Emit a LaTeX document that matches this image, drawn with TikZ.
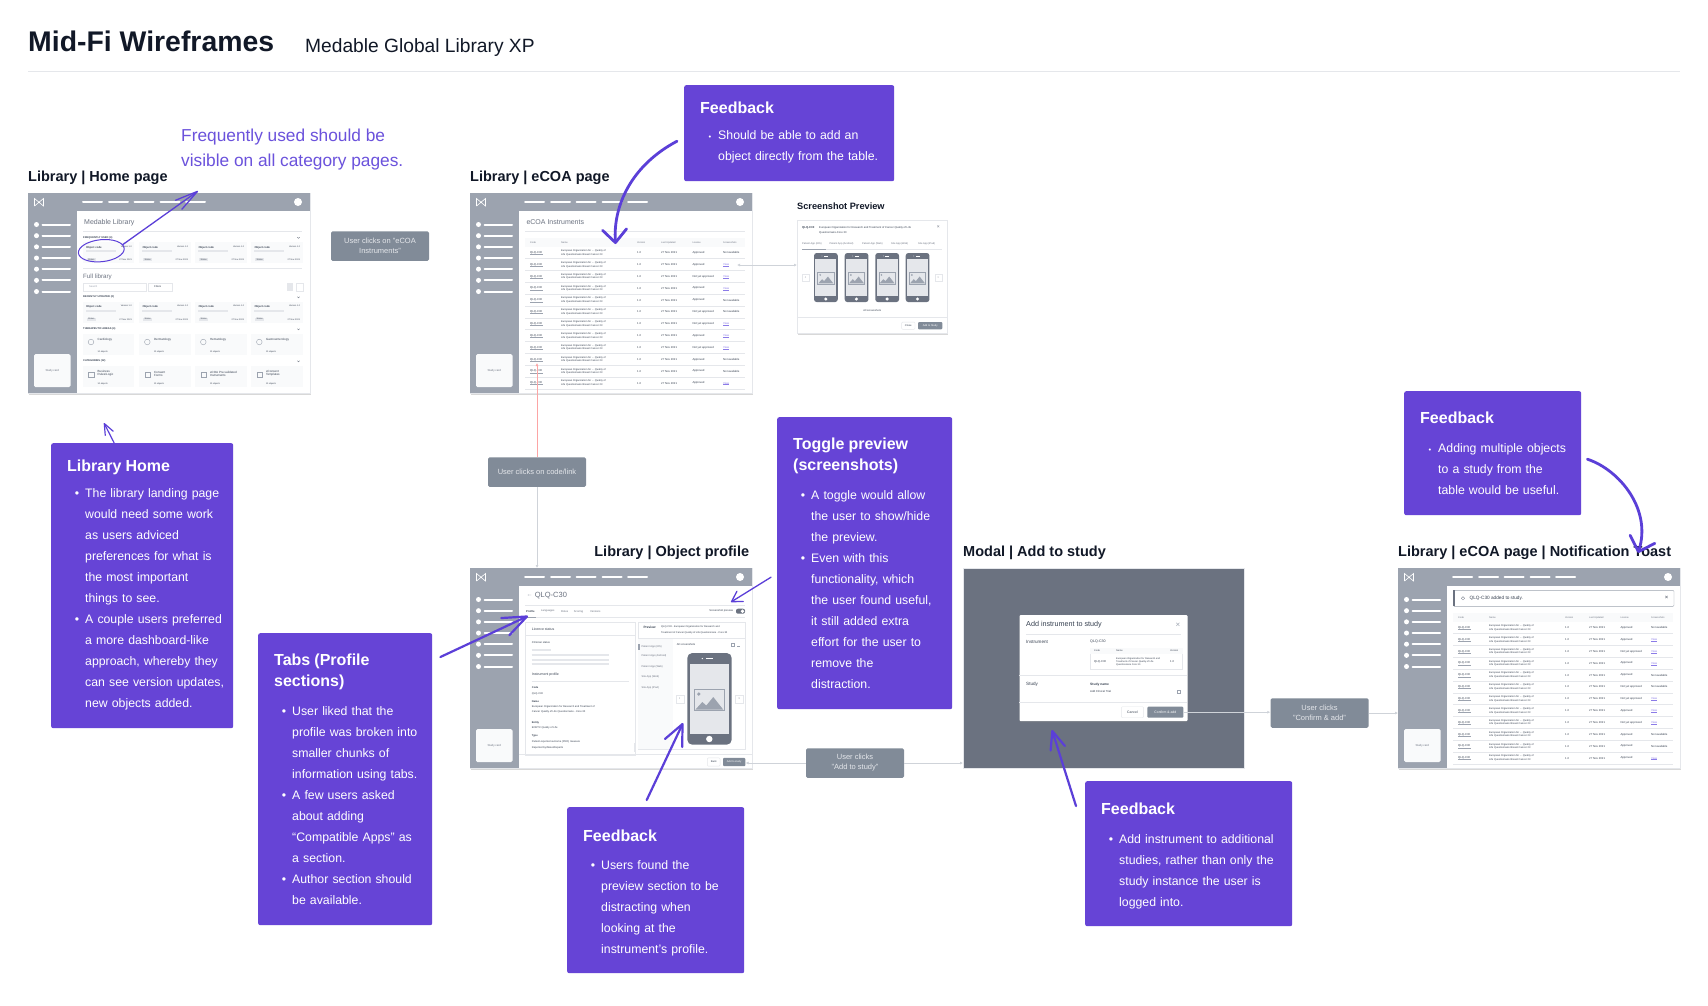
\documentclass[tikz,border=0pt]{standalone}
\usepackage{fontspec}
\setmainfont{Liberation Sans}
\usetikzlibrary{arrows.meta,positioning,shapes.geometric,shadows}

\definecolor{notepurple}{HTML}{6644D6}
\definecolor{arrowpurple}{HTML}{5B3FD8}
\definecolor{wfgray}{HTML}{9CA3AF}
\definecolor{wfdark}{HTML}{6B7280}
\definecolor{wfink}{HTML}{374151}
\definecolor{wfline}{HTML}{E5E7EB}
\definecolor{wfpale}{HTML}{F9FAFB}
\definecolor{clickgray}{HTML}{818B98}
\definecolor{linkview}{HTML}{8B7BE8}
\definecolor{linkred}{HTML}{FCA5A5}
\definecolor{titleink}{HTML}{111827}

\tikzset{
  fs/.style={font=\fontsize{#1pt}{#1pt}\selectfont},
  fsb/.style={font=\fontsize{#1pt}{#1pt}\selectfont\bfseries},
  wftext/.style={anchor=west,inner sep=0pt,text=wfink,align=left,fs=2.8},
  wfrule/.style={draw=wfline,line width=.5pt},
  wfbar/.style={draw=wfline,line width=2pt},
  wfbase/.style={anchor=north west,inner sep=0pt,fill=white,draw=wfline,line width=.3pt,minimum width=282pt,minimum height=200pt,
    drop shadow={opacity=.3,shadow xshift=.5pt,shadow yshift=-1.5pt}},
  btnlight/.style={draw=wfline,fill=white,rounded corners=1pt,inner sep=0pt,text=wfink},
  btndark/.style={fill=clickgray,rounded corners=1pt,inner sep=0pt,text=white},
  notebox/.style={anchor=north west,fill=notepurple,rounded corners=2pt,text=white,align=left,
    inner xsep=16pt,inner ysep=0pt,font=\fontsize{12.3pt}{21pt}\selectfont},
  notesize/.style 2 args={minimum width=#1pt,text width=#1pt-32pt,minimum height=#2pt},
  clickbox/.style={fill=clickgray,rounded corners=1.5pt,text=wfline,align=center,inner sep=0pt,
    minimum width=98pt,minimum height=29.5pt,font=\fontsize{7.5pt}{10pt}\selectfont},
  pagehead/.style={inner sep=0pt,text=titleink,font=\fontsize{14.5pt}{16pt}\selectfont\bfseries},
  flow/.style={draw=wfline!70!wfgray,line width=1pt,-{Latex[length=3pt,width=3pt]}},
  fbarrow/.style={draw=arrowpurple,line cap=round,line join=round},
  barbtip/.style 2 args={-{Straight Barb[length=#1pt,width=#2pt,round]}}
}

\newcounter{lblno}
\newcommand{\lbl}[4][]{\stepcounter{lblno}\node[wftext,#1] (lbl\arabic{lblno}) at (#2,#3) {#4};}

\newcommand{\nhead}[1]{\mbox{\fontsize{16pt}{21pt}\selectfont\bfseries #1}}
\newcommand{\nb}[1]{\mbox{\hspace*{18pt}\llap{\textbullet\hspace{6pt}}#1}}
\newcommand{\nbs}[1]{\mbox{\hspace*{18pt}\llap{\fontsize{7.5pt}{21pt}\selectfont\textbullet\hspace{7pt}}#1}}
\newcommand{\nl}[1]{\mbox{\hspace*{18pt}#1}}

% shell of a wireframe: header, sidebar, study card
\newcommand{\wireshell}[3]{
  \node[wfbase] (#1) at (#2,#3) {};
  \begin{scope}[shift={(#2,#3)}]
    \fill[wfgray] (0,0) rectangle (282,18);
    \fill[wfgray] (0,18) rectangle (49,200);
    \draw[white,line width=.6pt] (6.5,13) -- (6.5,5.5) -- (15.5,13) -- (15.5,5.5) -- (6.5,13);
    \foreach \hx in {55,81,106.5,132.5,158}
      \draw[white,line width=2pt,line cap=round] (\hx,9) -- ++(19,0);
    \fill[white] (270,9) circle (4pt);
    \foreach \sy in {0,...,6} {
      \fill[white] (8.5,31.5+11.17*\sy) circle (2.5pt);
      \draw[white,line width=2pt,line cap=round] (14.5,31.5+11.17*\sy) -- (42,31.5+11.17*\sy);
    }
    \fill[wfpale,rounded corners=1.5pt] (6,161) rectangle (42.5,194);
    \lbl[anchor=center,fs=2.8,text=wfdark]{24.2}{177.5}{Study card}
  \end{scope}
}

% table shared by the two eCOA pages
\newcommand{\ecoatable}{
  \fill[wfpale] (55.3,45) rectangle (275.3,54.3);
  \foreach \hx/\hdr in {60/Code,91/Name,167/Version,191/Last Updated,222.3/License,253/Screenshots} {
    \lbl[fs=2.4,text=wfdark]{\hx}{49.7}{\hdr}
  }
  \foreach \rowi/\lic/\shot in {0/Approved/0,1/Approved/1,2/Not yet approved/1,3/Approved/1,4/Approved/0,5/Not yet approved/0,
      6/Not yet approved/1,7/Approved/1,8/Not yet approved/1,9/Approved/0,10/Approved/0,11/Approved/1} {
    \pgfmathsetmacro{\ry}{59.7+11.85*\rowi}
    \lbl[fs=2.8]{60}{\ry}{QLQ-C30}
    \draw[wfgray,line width=.2pt] (60,\ry+1.5) -- ++(12.5,0);
    \lbl[fs=2.55]{91}{\ry-1.8}{European Organization for ... Quality of}
    \lbl[fs=2.55]{91}{\ry+1.8}{Life Questionnaire Breast Cancer 23}
    \lbl[fs=2.8]{167}{\ry}{1.0}
    \lbl[fs=2.8]{191}{\ry}{27 Nov 2021}
    \lbl[fs=2.8]{222.3}{\ry}{\lic}
    \ifnum\shot=1
      \lbl[fs=2.8,text=linkview]{253}{\ry}{View}
      \draw[linkview,line width=.2pt] (253,\ry+1.5) -- ++(6,0);
    \else
      \lbl[fs=2.8]{253}{\ry}{Not available}
    \fi
    \draw[wfrule] (55.3,\ry+5.9) -- (275.3,\ry+5.9);
  }
}

% phone with a placeholder picture, 44.4 by 91.7 at scale 1
\newcommand{\phone}[3]{
  \begin{scope}[shift={(#1,#2)},scale=#3]
    \fill[wfdark,rounded corners=#3*5pt] (0,0) rectangle (44.4,91.7);
    \fill[wfline] (2.4,11) rectangle (42,81);
    \fill[white] (22,86) circle (3.2pt);
    \draw[white,line width=.5pt] (19,5.5) -- (26,5.5);
    \fill[white] (15,5.5) circle (.7pt);
    \draw[wfgray,fill=wfline,line width=#3*1pt] (7,36.7) rectangle (37,57.7);
    \fill[wfgray] (11.5,41) circle (1.8pt);
    \fill[wfgray] (8,56.7) -- (15,49) -- (19,52.5) -- (26,44) -- (36,56.7) -- cycle;
  \end{scope}
}

\newcommand{\chev}[2]{\draw[wfdark,line width=.3pt] (#1-1.2,#2-.6) -- (#1,#2+.6) -- (#1+1.2,#2-.6);}

\begin{document}
\begin{tikzpicture}[x=1pt,y=-1pt]
\useasboundingbox[fill=white] (0,0) rectangle (1708,1005);

% page title
\node[anchor=base west,inner sep=0pt,text=titleink,font=\fontsize{28.4pt}{30pt}\selectfont\bfseries] (pageTitle) at (28,51) {Mid-Fi Wireframes};
\node[anchor=base west,inner sep=0pt,text=titleink,font=\fontsize{19.2pt}{22pt}\selectfont] (pageSub) at (305,52) {Medable Global Library XP};
\draw[draw=wfline,line width=1pt] (pageTitle.base west |- 0,71) -- (1680,71);

% library home
\wireshell{wfHome}{28}{193}
\begin{scope}[shift={(28,193)}]
  \lbl[fs=7,text=wfdark]{56}{30}{Medable Library}
  \draw[wfrule] (55,38.5) -- (274,38.5);
  \draw[wfrule] (55,75) -- (274,75);
  \foreach \sy/\st in {44.7/FREQUENTLY USED (4),104.3/RECENTLY UPDATED (2),136.3/THERAPEUTIC AREAS (4),168.3/CATEGORIES (12)} {
    \lbl[fsb=2.6]{55}{\sy}{\st}
    \chev{270.5}{\sy}
  }
  \foreach \cy in {49.3,109}
    \foreach \cx in {55,111.3,167.3,223.3} {
      \fill[wfpale] (\cx,\cy) rectangle ++(51.4,21);
      \lbl[fsb=2.7]{\cx+3}{\cy+5}{Object code}
      \lbl[anchor=east,fs=2.2]{\cx+49}{\cy+4}{Version 1.0}
      \draw[wfbar] (\cx+3,\cy+9) -- ++(30,0);
      \fill[wfline] (\cx+4,\cy+15.5) rectangle ++(9,3);
      \lbl[fs=2.2]{\cx+5}{\cy+17}{Status}
      \lbl[anchor=east,fs=2.2]{\cx+49}{\cy+17.5}{27 Nov 2021}
    }
  \lbl[fs=6.2,text=wfdark]{55}{83.7}{Full library}
  \draw[wfline,line width=.4pt] (55,90.3) rectangle (117.7,97.7);
  \lbl[fs=2.6,text=wfgray]{61}{94}{Search}
  \draw[wfline,line width=.4pt] (119.7,90.3) rectangle (143.7,97.7);
  \lbl[fs=2.6]{126}{94}{Filters}
  \fill[wfline] (258.7,90.3) rectangle (265.3,97.7);
  \draw[wfline,line width=.4pt] (268,90.3) rectangle (274.7,97.7);
  \foreach \cx/\cn in {55/Cardiology,111.3/Dermatology,167.3/Hematology,223.3/Gastroenterology} {
    \fill[wfpale] (\cx,141) rectangle ++(51.4,21.3);
    \draw[wfgray,line width=.4pt] (\cx+8,149) circle (2.8pt);
    \lbl[fs=3]{\cx+14.5}{146.7}{\cn}
    \lbl[fs=2.2]{\cx+14.5}{158.7}{10 objects}
  }
  \foreach \cx/\cn in {55/{Business\\Rules/Logic},111.3/{Consent\\Forms},167.3/{eCOA Pre-validated\\Instruments},223.3/{eConsent\\Templates}} {
    \fill[wfpale] (\cx,173) rectangle ++(51.4,21.3);
    \draw[wfgray,line width=.4pt] (\cx+5.5,179) rectangle ++(5.5,5.5);
    \lbl[fs=3]{\cx+14.5}{180.7}{\cn}
    \lbl[fs=2.2]{\cx+14.5}{190.7}{10 objects}
  }
\end{scope}
\node[ellipse,draw=arrowpurple,line width=1pt,inner sep=0pt,minimum width=46pt,minimum height=22pt,rotate=6] (ringFreq) at (101.3,250.7) {};

% ecoa page
\wireshell{wfEcoa}{470}{193}
\begin{scope}[shift={(470,193)}]
  \lbl[fs=7,text=wfdark]{56.3}{29.3}{eCOA Instruments}
  \draw[wfrule] (55.3,38) -- (275.3,38);
  \ecoatable
\end{scope}

% screenshot preview
\node[wfbase,minimum width=150pt,minimum height=113pt] (previewCard) at (797,220) {};
\node[anchor=base west,inner sep=0pt,text=titleink,font=\fontsize{9.2pt}{10pt}\selectfont\bfseries] (previewHead) at (797,209) {Screenshot Preview};
\begin{scope}[shift={(797,220)}]
  \lbl[fsb=2.8]{5}{7.7}{QLQ-C30}
  \lbl[fs=2.7]{22}{7.7}{European Organization for Research and Treatment of Cancer Quality of Life}
  \lbl[fs=2.7]{22}{12.7}{Questionnaire-Core 30}
  \lbl[anchor=center,fs=5,text=wfdark]{141.3}{7.3}{×}
  \foreach \tx/\tabn in {5/Patient App (iOS),32.3/Patient App (Android),65/Patient App (Web),94/Site App (Web),121/Site App (iPad)} {
    \lbl[fs=2.5,text=wfdark]{\tx}{24.3}{\tabn}
  }
  \draw[wfrule] (5,29.3) -- (145,29.3);
  \draw[wfgray,line width=.6pt] (5,29.3) -- (29,29.3);
  \phone{17}{33}{.535}
  \phone{47.7}{33}{.535}
  \phone{78.3}{33}{.535}
  \phone{108.7}{33}{.535}
  \draw[wfline,line width=.4pt] (5.3,54.3) rectangle (11.7,61);
  \lbl[anchor=center,fs=3.5,text=wfdark]{8.5}{57.6}{‹}
  \draw[wfline,line width=.4pt] (138,54.3) rectangle (144.7,61);
  \lbl[anchor=center,fs=3.5,text=wfdark]{141.3}{57.6}{›}
  \lbl[anchor=center,fs=2.6]{75.3}{91}{All screenshots}
  \draw[wfrule] (0,97.3) -- (150,97.3);
  \node[btnlight,minimum width=13.3pt,minimum height=7.3pt,fs=2.6] (previewClose) at (111.3,105.7) {Close};
  \node[btndark,minimum width=24.3pt,minimum height=7.3pt,fs=2.6] (previewAdd) at (133.2,105.7) {Add to Study};
\end{scope}

% object profile
\wireshell{wfProfile}{470}{568}
\begin{scope}[shift={(470,568)}]
  \lbl[fs=6,text=wfgray]{56.5}{27.5}{←}
  \lbl[fs=7.5,text=wfdark]{64.7}{27.7}{QLQ-C30}
  \draw[wfrule] (55.3,37) -- (275.3,37);
  \lbl[fsb=2.7]{56}{43.3}{Profile}
  \foreach \tx/\tabn in {71/Languages,91/Roles,103.7/Scoring,120/Versions} {
    \lbl[fs=2.7,text=wfdark]{\tx}{43.3}{\tabn}
  }
  \draw[wfrule] (55.3,49.3) -- (275.3,49.3);
  \draw[wfgray,line width=.5pt] (56,49.3) -- (66,49.3);
  \lbl[anchor=east,fs=2.7]{263.3}{43}{Screenshot preview}
  \fill[wfdark,rounded corners=2pt] (266,40.7) rectangle (275,45.7);
  \fill[white] (272.5,43.2) circle (1.8pt);
  % left panel
  \draw[wfline,line width=.4pt] (55.3,54) rectangle (165.3,186.7);
  \lbl[fs=3.5]{61.7}{61}{Licence status}
  \draw[wfrule] (55.3,67.3) -- (165.3,67.3);
  \lbl[fs=2.7]{61.7}{74.3}{Clinician status}
  \draw[wfbar] (61.7,81.7) -- (80.7,81.7);
  \foreach \by in {87,91.7,96.3} \draw[wfbar] (61.7,\by) -- (139,\by);
  \lbl[fs=3.5]{61.7}{107}{Instrument profile}
  \draw[wfrule] (61.7,113) -- (159,113);
  \foreach \ly/\ltxt in {120/Code,133.7/Name,154.7/Entity,168.3/Type} {
    \lbl[fsb=2.6]{61.7}{\ly}{\ltxt}
  }
  \lbl[fs=2.6]{61.7}{126}{QLQ-C30}
  \lbl[fs=2.6]{61.7}{139.3}{European Organization for Research and Treatment of}
  \lbl[fs=2.6]{61.7}{144.3}{Cancer Quality of Life Questionnaire - Core 30}
  \lbl[fs=2.6]{61.7}{160.3}{EORTC Quality of Life}
  \lbl[fs=2.6]{61.7}{174}{Patient-reported outcome (PRO) measure}
  \lbl[fs=2.6]{61.7}{179.7}{Reported by/About/Experts}
  \fill[wfline] (163.5,175) rectangle (165,184);
  % right panel
  \draw[wfline,line width=.4pt] (168.3,54) rectangle (275.3,181);
  \lbl[fsb=3.2]{173.3}{59.3}{Preview}
  \lbl[fs=2.5]{191}{59.3}{QLQ-C30 - European Organization for Research and}
  \lbl[fs=2.5]{191}{65}{Treatment of Cancer Quality of Life Questionnaire - Core 30}
  \draw[wfrule] (168.3,70.7) -- (275.3,70.7);
  \fill[wfpale] (168.3,71) rectangle (203.3,181);
  \fill[wfgray] (168.3,76) rectangle (169.6,82.3);
  \foreach \ly/\ltxt in {79/Patient App (iOS),88/Patient App (Android),98.7/Patient App (Web),109.3/Site App (Web),120/Site App (iPad)} {
    \lbl[fs=2.6,text=wfdark]{171.3}{\ly}{\ltxt}
  }
  \lbl[fs=2.7]{206.7}{76.3}{All screenshots}
  \draw[wfgray,line width=.3pt] (261,74.8) rectangle ++(3,3);
  \draw[wfgray,line width=.3pt] (267,78) -- (270,78);
  \phone{217.3}{85}{1}
  \draw[wfline,line width=.4pt] (206,127) rectangle (213.7,135);
  \lbl[anchor=center,fs=3.5,text=wfdark]{209.8}{131}{‹}
  \draw[wfline,line width=.4pt] (265.3,127) rectangle (273.3,135);
  \lbl[anchor=center,fs=3.5,text=wfink]{269.3}{131}{›}
  \draw[wfrule] (49,186.7) -- (282,186.7);
  \node[btnlight,minimum width=12.7pt,minimum height=8.3pt,fs=2.6] (profileBack) at (243.7,194) {Back};
  \node[btndark,minimum width=22.3pt,minimum height=8.3pt,fs=2.6] (profileAdd) at (264.2,194) {Add to study};
\end{scope}

% add to study modal
\node[anchor=north west,inner sep=0pt,fill=wfdark,draw=wfline,line width=.4pt,minimum width=281pt,minimum height=200pt] (modalBg) at (963,568) {};
\node[anchor=north west,inner sep=0pt,fill=white,rounded corners=1pt,minimum width=168pt,minimum height=106pt,
  drop shadow={opacity=.25,shadow xshift=0pt,shadow yshift=-1.5pt}] (modalCard) at (1019.3,615) {};
\begin{scope}[shift={(1019.3,615)}]
  \lbl[fs=7.2,text=wfink]{6.7}{10}{Add instrument to study}
  \lbl[anchor=center,fs=8,text=wfgray]{158.7}{10.7}{×}
  \draw[wfrule] (6.7,19.3) -- (162,19.3);
  \lbl[fs=4.6]{6.7}{27}{Instrument}
  \lbl[fs=3.6]{70.7}{27}{QLQ-C30}
  \draw[wfline,line width=.4pt] (70.7,32.7) rectangle (163.3,54.3);
  \fill[wfpale] (70.7,32.7) rectangle (163.3,38.7);
  \foreach \hx/\hdr in {74.7/Code,96.7/Name,150.7/Version} {
    \lbl[fs=2.4]{\hx}{35.7}{\hdr}
  }
  \lbl[fs=2.8]{74.7}{46.7}{QLQ-C30}
  \lbl[fs=2.4]{96.7}{43.7}{European Organization for Research and}
  \lbl[fs=2.4]{96.7}{46.7}{Treatment of Cancer Quality of Life}
  \lbl[fs=2.4]{96.7}{49.7}{Questionnaire Core 30}
  \lbl[fs=2.8]{150.7}{46.7}{1.0}
  \draw[wfrule] (0,60.3) -- (168,60.3);
  \lbl[fs=4.6]{6.7}{69}{Study}
  \lbl[fsb=3.3]{70.7}{69.3}{Study name}
  \lbl[fs=2.8]{70.7}{76.7}{Add Clinical Trial}
  \draw[wfgray,line width=.3pt] (158.3,75.3) rectangle ++(2.8,2.8);
  \draw[wfrule] (0,87.3) -- (168,87.3);
  \node[btnlight,minimum width=22.3pt,minimum height=11pt,fs=3.4] (modalCancel) at (113.2,97.2) {Cancel};
  \node[btndark,minimum width=36pt,minimum height=11pt,fs=3.4] (modalConfirm) at (146,97.2) {Confirm \& add};
\end{scope}

% notification toast
\wireshell{wfToast}{1398}{568}
\begin{scope}[shift={(1398,568)}]
  \draw[draw=wfgray,fill=white,line width=.4pt,rounded corners=1pt] (55.3,22.3) rectangle (276,38.3);
  \fill[wfdark] (55.3,22.3) rectangle (57.3,38.3);
  \draw[wfdark,line width=.3pt] (65,30.3) circle (1.7pt);
  \lbl[fs=4.7]{71.5}{30.3}{QLQ-C30 added to study.}
  \lbl[anchor=center,fs=6]{268.7}{30.3}{×}
  \ecoatable
\end{scope}

% page headings
\node[pagehead,above right=8pt and 0pt of wfHome.north west] (headHome) {Library | Home page};
\node[pagehead,above right=8pt and 0pt of wfEcoa.north west] (headEcoa) {Library | eCOA page};
\node[pagehead,above left=8pt and 3pt of wfProfile.north east] (headProfile) {Library | Object profile};
\node[pagehead,above right=8pt and 0pt of modalBg.north west] (headModal) {Modal | Add to study};
\node[pagehead,above right=8pt and 0pt of wfToast.north west] (headToast) {Library | eCOA page | Notification Toast};

% user actions
\node[clickbox] (clickEcoa) at (380,246) {User clicks on "eCOA\\Instruments"};
\node[clickbox] (clickCode) at (537,472) {User clicks on code/link};
\node[clickbox] (clickAdd) at (855,763) {User clicks\\"Add to study"};
\node[clickbox] (clickConfirm) at (1319.5,713) {User clicks\\"Confirm \& add"};

% notes
\node[notebox,notesize={210}{96}] (fbTable) at (684,85) {\nhead{Feedback}\\[5pt]
  \nbs{Should be able to add an}\\ \nl{object directly from the table.}\rule[-5pt]{0pt}{5pt}};
\node[notebox,notesize={182}{285}] (fbHome) at (51,443) {\nhead{Library Home}\\[5pt]
  \nb{The library landing page}\\ \nl{would need some work}\\ \nl{as users adviced}\\
  \nl{preferences for what is}\\ \nl{the most important}\\ \nl{things to see.}\\
  \nb{A couple users preferred}\\ \nl{a more dashboard-like}\\ \nl{approach, whereby they}\\
  \nl{can see version updates,}\\ \nl{new objects added.}\rule[-5pt]{0pt}{5pt}};
\node[notebox,notesize={174}{292}] (fbTabs) at (258,633) {\nhead{Tabs (Profile}\\ \nhead{sections)}\\[7.5pt]
  \nb{User liked that the}\\ \nl{profile was broken into}\\ \nl{smaller chunks of}\\ \nl{information using tabs.}\\
  \nb{A few users asked}\\ \nl{about adding}\\ \nl{“Compatible Apps” as}\\ \nl{a section.}\\
  \nb{Author section should}\\ \nl{be available.}};
\node[notebox,notesize={177}{166}] (fbPreview) at (567,807) {\rule{0pt}{17pt}\nhead{Feedback}\\[7.5pt]
  \nb{Users found the}\\ \nl{preview section to be}\\ \nl{distracting when}\\ \nl{looking at the}\\ \nl{instrument’s profile.}};
\node[notebox,notesize={175}{292}] (fbToggle) at (777,417) {\nhead{Toggle preview}\\ \nhead{(screenshots)}\\[7.5pt]
  \nb{A toggle would allow}\\ \nl{the user to show/hide}\\ \nl{the preview.}\\
  \nb{Even with this}\\ \nl{functionality, which}\\ \nl{the user found useful,}\\ \nl{it still added extra}\\
  \nl{effort for the user to}\\ \nl{remove the}\\ \nl{distraction.}};
\node[notebox,notesize={207}{145}] (fbStudies) at (1085,781) {\rule{0pt}{16pt}\nhead{Feedback}\\[7.5pt]
  \nb{Add instrument to additional}\\ \nl{studies, rather than only the}\\ \nl{study instance the user is}\\ \nl{logged into.}};
\node[notebox,notesize={177}{124}] (fbMulti) at (1404,391) {\nhead{Feedback}\\[7.5pt]
  \nbs{Adding multiple objects}\\ \nl{to a study from the}\\ \nl{table would be useful.}};
\node[anchor=base west,inner sep=0pt,text=arrowpurple!90!white,align=left,font=\fontsize{17.3pt}{24.5pt}\selectfont] (noteFreq) at (181,166) {Frequently used should be\\visible on all category pages.};

% connector ends
\coordinate (linkCode) at (537,363);
\coordinate (linkView) at (737,265);
\coordinate (tipFreq) at (198,191);
\coordinate (tipHome) at (104,423);
\coordinate (tipTable) at (615.5,244);
\coordinate (tipTabs) at (528,616);
\coordinate (tipToggle) at (731,602);
\coordinate (tipPhone) at (683,723);
\coordinate (tipModal) at (1052,730);
\coordinate (tipToast) at (1638,553);

% flow between screens
\draw[draw=linkred,line width=1pt,-{Latex[length=3pt,width=3pt]}] (clickCode.north) -- (linkCode);
\draw[flow] (clickCode.south) -- (clickCode.south |- wfProfile.north);
\draw[flow,{Latex[length=3pt,width=3pt]}-{Latex[length=3pt,width=3pt]}] (linkView) -- (linkView -| previewCard.west);
\draw[flow] (clickAdd.west) -- (clickAdd.west -| profileAdd.east);
\draw[flow] (clickAdd.east) -- (clickAdd.east -| modalBg.west);
\draw[flow] (modalConfirm.east) -- (modalConfirm.east -| clickConfirm.west);
\draw[flow] (clickConfirm.east) -- (clickConfirm.east -| wfToast.west);

% feedback arrows
\draw[fbarrow,line width=1.3pt,barbtip={23}{11}] (ringFreq.10) -- (tipFreq);
\draw[fbarrow,line width=1.2pt,barbtip={11}{9}] ([xshift=-28pt]fbHome.north) -- (tipHome);
\draw[fbarrow,line width=2.8pt,barbtip={13}{24}] ([shift={(-7,8)}]fbTable.west) .. controls (632,165) and (613,205) .. (tipTable);
\draw[fbarrow,line width=2.2pt,barbtip={24}{19}] ([shift={(8,24)}]fbTabs.north east) -- (tipTabs);
\draw[fbarrow,line width=1.3pt,barbtip={10}{12}] ([shift={(-6,14)}]fbToggle.west) -- (tipToggle);
\draw[fbarrow,line width=2.2pt,barbtip={21}{19}] ([shift={(-9,-7)}]fbPreview.north) -- (tipPhone);
\draw[fbarrow,line width=2.2pt,barbtip={18}{15}] ([shift={(-9,25)}]fbStudies.north west) -- (tipModal);
\draw[fbarrow,line width=2.8pt,barbtip={13}{26}] ([shift={(6,6)}]fbMulti.east) .. controls (1620,470) and (1652,510) .. (tipToast);
\end{tikzpicture}
\end{document}
